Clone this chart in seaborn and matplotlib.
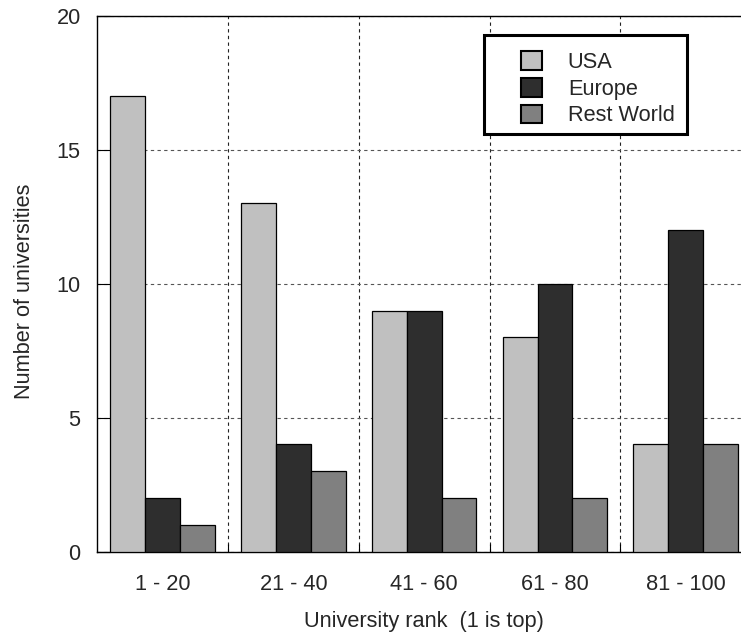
import matplotlib
matplotlib.use("Agg")
import matplotlib.pyplot as plt
import seaborn as sns
import pandas as pd
from matplotlib.ticker import FixedLocator
from matplotlib.patches import Rectangle

# values
ranks = ['1 - 20', '21 - 40', '41 - 60', '61 - 80', '81 - 100']
usa = [17, 13, 9, 8, 4]
europe = [2, 4, 9, 10, 12]
rest_world = [1, 3, 2, 2, 4]
regions = ['USA', 'Europe', 'Rest World']
region_colors = ['#c0c0c0', '#2e2e2e', '#808080']

df = pd.DataFrame({
    'rank': ranks * 3,
    'count': usa + europe + rest_world,
    'region': [r for r in regions for _ in ranks],
})

sns.set_theme(style='white')
plt.rcParams['font.family'] = ['Liberation Sans', 'DejaVu Sans']
fs = 15.7

fig = plt.figure(figsize=(7.41, 6.39), dpi=100)
ax = fig.add_axes([0.1313, 0.1369, 0.8823, 0.838])

sns.barplot(data=df, x='rank', y='count', hue='region', order=ranks,
            hue_order=regions, palette=region_colors, width=0.8,
            edgecolor='black', linewidth=0.9, saturation=1, ax=ax, zorder=3)

ax.set_xlim(-0.5, 4.5)
ax.set_ylim(0, 20)
ax.set_yticks([0, 5, 10, 15, 20])
ax.xaxis.set_minor_locator(FixedLocator([0.5, 1.5, 2.5, 3.5]))

# gnuplot-like dashed grid
ax.grid(True, axis='y', which='major', color='#555555', linestyle=(0, (3, 3)), linewidth=0.8, zorder=0)
ax.grid(True, axis='x', which='minor', color='#222222', linestyle=(0, (3, 3)), linewidth=0.8, zorder=0)
ax.grid(False, axis='x', which='major')

for s in ax.spines.values():
    s.set_color('black')
    s.set_linewidth(1.0)

ax.tick_params(axis='y', which='major', direction='in', length=9, width=0.8,
               color='black', labelsize=fs, pad=12, left=True)
ax.tick_params(axis='x', which='major', length=0, labelsize=fs, pad=16)
ax.tick_params(axis='x', which='minor', direction='in', length=6, width=0.8,
               color='black', bottom=True)

ax.set_xlabel('University rank  (1 is top)', fontsize=fs, labelpad=12)
ax.set_ylabel('Number of universities', fontsize=fs)
ax.yaxis.set_label_coords(-0.0953, 0.4855)

# legend frame drawn separately so the entries can sit with gnuplot's padding
ax.add_patch(Rectangle((0.5915, 0.7796), 0.3105, 0.1849, transform=ax.transAxes,
                       facecolor='white', edgecolor='black', linewidth=2.2,
                       zorder=5, clip_on=False))
leg = ax.legend(loc='upper left', bbox_to_anchor=(0.648, 0.9347),
                fontsize=fs, frameon=False,
                handlelength=0.96, handleheight=0.96, handletextpad=1.19,
                borderpad=0, labelspacing=0.22, borderaxespad=0)
leg.set_zorder(6)
for h in leg.legend_handles:
    h.set_edgecolor('black')
    h.set_linewidth(1.5)

fig.savefig('out.png', dpi=100)
